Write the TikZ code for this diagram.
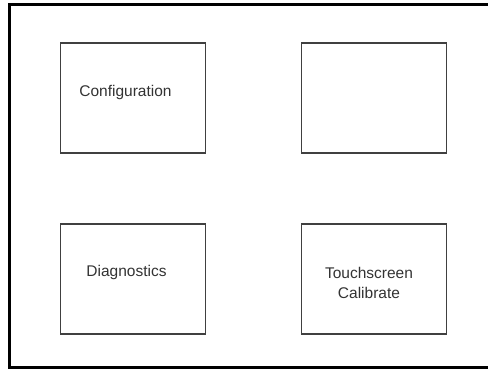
\documentclass[tikz,border=0pt]{standalone}
\usepackage{fontspec}
\setmainfont{Liberation Sans}
\begin{document}
\begin{tikzpicture}[x=1pt,y=-1pt,
  panel/.style={draw=black!75, line width=1.6pt, minimum width=145pt, minimum height=110pt, inner sep=0pt, anchor=north west},
  lbl/.style={font=\fontsize{15.5}{20}\selectfont, text=black!80, inner sep=0pt, align=center}]
\useasboundingbox (0,0) rectangle (488,370);
\fill[white] (0,0) rectangle (488,370);
\draw[line width=3pt] (495,4.5) -- (9.2,4.5) -- (9.2,367.8) -- (495,367.8);
\node[panel] (cfg) at (59.5,42) {};
\node[panel] (blank) at (300.5,42) {};
\node[panel] (diag) at (59.5,223) {};
\node[panel] (touch) at (300.5,223) {};
\node[lbl] (cfgt) at (125.5,92.5) {Configuration};
\node[lbl] (diagt) at (126.5,272.5) {Diagnostics};
\node[lbl] (toucht) at (369,282.5) {Touchscreen\\Calibrate};
\end{tikzpicture}
\end{document}
